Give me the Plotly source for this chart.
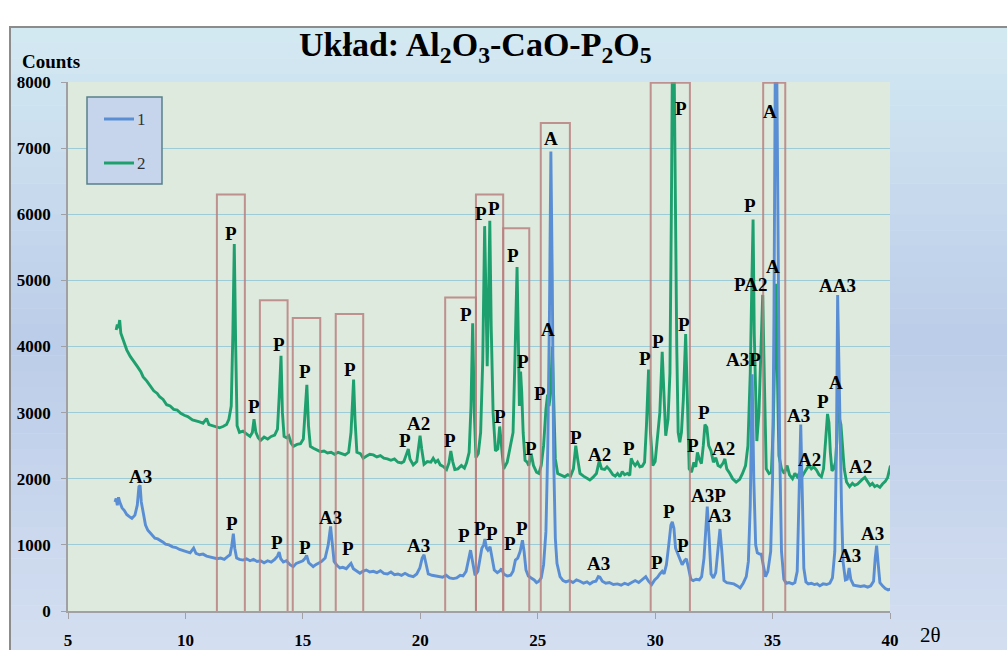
import plotly.graph_objects as go

# ---------------- data ----------------
# series 2 (green)
x2 = [7.05, 7.1, 7.15, 7.2, 7.25, 7.35, 7.5, 7.65, 7.8, 7.95, 8.1, 8.2, 8.35, 8.5, 8.65, 8.8, 8.9, 9.05, 9.2, 9.35,
      9.5, 9.65, 9.8, 9.95, 10.1, 10.3, 10.45, 10.6, 10.75, 10.9, 11.0, 11.15, 11.3, 11.45, 11.6, 11.75, 11.85, 11.95,
      12.02, 12.08, 12.14, 12.2, 12.3, 12.45, 12.6, 12.75, 12.85, 12.92, 13.0, 13.1, 13.2, 13.35, 13.5, 13.65, 13.8,
      13.92, 14.0, 14.07, 14.13, 14.2, 14.3, 14.4, 14.5, 14.6, 14.75, 14.9, 15.02, 15.1, 15.17, 15.24, 15.32, 15.45,
      15.6, 15.75, 15.9, 16.05, 16.2, 16.35, 16.5, 16.65, 16.8, 16.95, 17.05, 17.12, 17.16, 17.22, 17.3, 17.45, 17.57,
      17.7, 17.85, 18.0, 18.15, 18.3, 18.45, 18.6, 18.75, 18.9, 19.05, 19.2, 19.3, 19.42, 19.49, 19.56, 19.7, 19.85,
      19.93, 19.99, 20.06, 20.16, 20.3, 20.45, 20.55, 20.65, 20.75, 20.85, 21.0, 21.12, 21.22, 21.3, 21.38, 21.47,
      21.6, 21.75, 21.88, 21.97, 22.08, 22.16, 22.23, 22.3, 22.37, 22.47, 22.57, 22.66, 22.74, 22.8, 22.85, 22.91,
      22.96, 23.02, 23.1, 23.2, 23.3, 23.38, 23.46, 23.55, 23.7, 23.85, 23.95, 24.03, 24.12, 24.18, 24.22, 24.27,
      24.32, 24.38, 24.46, 24.55, 24.62, 24.72, 24.82, 24.95, 25.05, 25.15, 25.25, 25.35, 25.42, 25.48, 25.55, 25.62,
      25.68, 25.75, 25.85, 26.0, 26.15, 26.28, 26.4, 26.52, 26.62, 26.7, 26.8, 26.95, 27.1, 27.22, 27.35, 27.5, 27.62,
      27.72, 27.85, 27.95, 28.07, 28.2, 28.3, 28.4, 28.5, 28.6, 28.7, 28.82, 28.92, 28.98, 29.05, 29.15, 29.25, 29.35,
      29.45, 29.55, 29.63, 29.72, 29.8, 29.9, 30.0, 30.1, 30.2, 30.3, 30.38, 30.45, 30.55, 30.63, 30.69, 30.74, 30.8,
      30.86, 30.92, 30.98, 31.05, 31.12, 31.2, 31.3, 31.36, 31.45, 31.55, 31.65, 31.73, 31.8, 31.88, 31.97, 32.05,
      32.12, 32.2, 32.28, 32.38, 32.48, 32.58, 32.68, 32.78, 32.9, 32.97, 33.05, 33.18, 33.3, 33.45, 33.6, 33.72,
      33.85, 33.95, 34.05, 34.12, 34.17, 34.22, 34.28, 34.33, 34.42, 34.5, 34.58, 34.65, 34.73, 34.85, 34.95, 35.03,
      35.1, 35.15, 35.2, 35.27, 35.38, 35.5, 35.62, 35.72, 35.85, 35.95, 36.05, 36.15, 36.25, 36.35, 36.45, 36.55,
      36.65, 36.75, 36.87, 36.98, 37.08, 37.17, 37.25, 37.34, 37.4, 37.46, 37.53, 37.6, 37.68, 37.74, 37.8, 37.85,
      37.91, 37.97, 38.05, 38.15, 38.28, 38.4, 38.5, 38.62, 38.72, 38.82, 38.93, 39.05, 39.15, 39.25, 39.35, 39.45,
      39.57, 39.68, 39.8, 39.9, 39.97, 40.02]
y2 = [4250, 4330, 4280, 4400, 4200, 4100, 3950, 3850, 3780, 3700, 3620, 3540, 3480, 3400, 3330, 3290, 3240, 3200, 3120, 3100,
      3050, 3040, 2990, 2960, 2940, 2890, 2880, 2860, 2840, 2910, 2820, 2800, 2780, 2770, 2790, 2820, 2900, 3100,
      4200, 5550, 4000, 2800, 2700, 2720, 2680, 2640, 2700, 2900, 2700, 2620, 2580, 2630, 2600, 2640, 2660,
      2750, 3300, 3860, 3000, 2640, 2620, 2650, 2540, 2490, 2520, 2530, 2600, 3000, 3420, 2800, 2490, 2460,
      2430, 2410, 2420, 2390, 2400, 2370, 2400, 2380, 2360, 2400, 2700, 3200, 3500, 2900, 2400, 2380, 2310,
      2340, 2370, 2360, 2330, 2350, 2310, 2300, 2280, 2300, 2250, 2240, 2260, 2380, 2450, 2300, 2210, 2260,
      2500, 2650, 2450, 2220, 2260, 2250, 2310, 2250, 2280, 2210, 2180, 2140, 2240, 2420, 2260, 2140,
      2150, 2200, 2160, 2240, 2400, 3100, 4350, 3000, 2320, 2380, 2700, 3800, 5820, 4500, 3700, 4800,
      5900, 4300, 3000, 2420, 2450, 2790, 2450, 2150, 2250, 2500, 2700, 3800, 5200, 4000, 3100, 3620,
      3300, 2700, 2280, 2250, 2200, 2380, 2200, 2100, 2080, 2200, 2500, 3050, 3270, 3100, 3300, 4000,
      3000, 2300, 2080, 2050, 2030, 2060, 2040, 2150, 2500, 2300, 2080, 2040, 2000, 1980, 2020, 2080, 2270,
      2150, 2140, 2180, 2130, 2060, 2040, 2080, 2030, 2110, 2060, 2080, 2050, 2310, 2250, 2200, 2250, 2180,
      2190, 2250, 2800, 3650, 2700, 2200, 2260, 2600, 3000, 3920, 3300, 2650, 2900, 3600, 6000, 8600, 8600,
      6200, 4000, 2700, 2550, 2700, 3200, 4190, 3300, 2150, 2100, 2250, 2180, 2400, 2300, 2230, 2500,
      2820, 2780, 2500, 2420, 2250, 2320, 2200, 2180, 2240, 2300, 2150, 2080, 2000, 1950, 1990, 2080,
      2200, 2500, 3600, 5000, 5920, 4200, 3000, 2570, 3000, 3900, 4780, 3500, 2150, 2080, 2100, 2800,
      4300, 4950, 3700, 2350, 2150, 2080, 2200, 2060, 2000, 2080, 2030, 2090, 2030, 2100, 2150, 2200,
      2150, 2180, 2130, 2060, 2030, 2150, 2500, 2980, 2850, 2400, 2120, 2150, 2250, 2600, 3250, 2900,
      2820, 2500, 2150, 1950, 1880, 1930, 1900, 1920, 1960, 1990, 2020, 1950, 1900, 1930, 1880, 1900,
      1870, 1920, 1960, 2020, 2150, 2200]

# series 1 (blue)
x1 = [7.0, 7.05, 7.1, 7.15, 7.2, 7.3, 7.4, 7.5, 7.6, 7.72, 7.85, 7.95, 8.02, 8.07, 8.12, 8.2, 8.3, 8.4, 8.5, 8.6,
      8.7, 8.82, 8.92, 9.05, 9.15, 9.3, 9.45, 9.6, 9.75, 9.9, 10.05, 10.2, 10.35, 10.45, 10.6, 10.75, 10.9, 11.05,
      11.2, 11.35, 11.5, 11.65, 11.78, 11.9, 11.97, 12.04, 12.1, 12.18, 12.3, 12.45, 12.6, 12.75, 12.9, 13.05, 13.2,
      13.35, 13.5, 13.65, 13.8, 13.92, 13.99, 14.06, 14.17, 14.3, 14.45, 14.59, 14.72, 14.88, 15.0, 15.1, 15.16,
      15.25, 15.35, 15.44, 15.55, 15.68, 15.8, 15.95, 16.08, 16.18, 16.26, 16.33, 16.45, 16.58, 16.7, 16.85, 16.95,
      17.05, 17.15, 17.3, 17.43, 17.55, 17.7, 17.85, 18.0, 18.15, 18.3, 18.45, 18.6, 18.75, 18.9, 19.05, 19.2, 19.35,
      19.5, 19.7, 19.85, 19.98, 20.08, 20.16, 20.24, 20.34, 20.5, 20.65, 20.8, 20.95, 21.1, 21.25, 21.4, 21.55, 21.7,
      21.82, 21.95, 22.05, 22.14, 22.22, 22.33, 22.45, 22.55, 22.62, 22.7, 22.75, 22.82, 22.88, 22.97, 23.05, 23.15,
      23.28, 23.4, 23.46, 23.55, 23.7, 23.85, 23.95, 24.05, 24.15, 24.25, 24.35, 24.42, 24.5, 24.6, 24.72, 24.85,
      24.95, 25.05, 25.15, 25.25, 25.35, 25.43, 25.5, 25.56, 25.62, 25.68, 25.75, 25.82, 25.95, 26.08, 26.2, 26.35,
      26.5, 26.65, 26.8, 26.95, 27.1, 27.22, 27.35, 27.48, 27.58, 27.65, 27.75, 27.9, 28.05, 28.22, 28.4, 28.55,
      28.7, 28.85, 29.0, 29.15, 29.3, 29.45, 29.6, 29.72, 29.85, 29.98, 30.1, 30.2, 30.3, 30.38, 30.48, 30.58, 30.67,
      30.73, 30.8, 30.87, 30.95, 31.05, 31.15, 31.25, 31.33, 31.42, 31.52, 31.62, 31.75, 31.88, 31.98, 32.08, 32.15,
      32.22, 32.3, 32.38, 32.48, 32.58, 32.68, 32.76, 32.84, 32.93, 33.05, 33.2, 33.35, 33.5, 33.62, 33.75, 33.88,
      33.97, 34.05, 34.13, 34.2, 34.28, 34.35, 34.45, 34.52, 34.6, 34.7, 34.8, 34.92, 35.0, 35.06, 35.12, 35.17,
      35.23, 35.3, 35.38, 35.48, 35.58, 35.7, 35.85, 35.95, 36.05, 36.13, 36.2, 36.27, 36.33, 36.42, 36.52, 36.65,
      36.78, 36.9, 37.01, 37.15, 37.3, 37.44, 37.55, 37.65, 37.72, 37.77, 37.82, 37.87, 37.94, 38.0, 38.1, 38.18,
      38.26, 38.33, 38.45, 38.6, 38.75, 38.9, 39.05, 39.18, 39.3, 39.37, 39.43, 39.5, 39.57, 39.68, 39.8, 39.92, 40.02]
y1 = [1650, 1700, 1600, 1720, 1650, 1560, 1520, 1460, 1430, 1400, 1450, 1600, 1880, 1900, 1650, 1470, 1300, 1220, 1180, 1150,
      1100, 1090, 1070, 1040, 1010, 1000, 970, 960, 930, 910, 900, 880, 950, 870, 850, 860, 830, 820,
      810, 790, 800, 780, 820, 850, 980, 1170, 950, 800, 780, 770, 790, 760, 780, 750, 760,
      730, 760, 740, 780, 830, 890, 790, 740, 760, 700, 670, 720, 740, 760, 800, 840,
      730, 700, 670, 700, 720, 750, 800, 1000, 1280, 950, 750, 690, 650, 660, 640, 680,
      720, 640, 600, 570, 600, 620, 590, 600, 580, 610, 570, 560, 590, 550, 560, 540, 570,
      540, 520, 560, 650, 800, 850, 700, 560, 540, 530, 520, 510, 540, 500, 490, 500, 540,
      530, 600, 750, 920, 760, 540, 600, 800, 950, 1000, 1090, 950, 920, 970, 800, 620,
      580, 610, 640, 560, 530, 540, 600, 770, 800, 900, 1070, 900, 620, 530, 500, 470,
      430, 450, 500, 700, 1200, 2500, 4500, 6950, 5000, 2300, 1100, 720, 520, 460, 440, 460,
      430, 470, 450, 420, 440, 410, 440, 450, 520, 510, 450, 420, 430, 400, 410, 390,
      420, 400, 430, 460, 430, 480, 520, 450, 400, 470, 510, 560, 600, 560, 700, 1000, 1300,
      1350, 1250, 950, 880, 780, 700, 760, 790, 650, 480, 460, 480, 470, 520, 800, 1300,
      1580, 1100, 560, 500, 580, 950, 1240, 900, 460, 430, 420, 410, 380, 350, 420, 520,
      750, 1600, 3580, 2000, 1000, 880, 860, 860, 700, 520, 600, 900, 2000, 4500, 8600, 8600,
      5900, 2500, 900, 480, 420, 430, 410, 430, 600, 1800, 2820, 1700, 650, 440, 410, 420,
      400, 410, 380, 410, 400, 420, 500, 900, 2500, 4780, 3500, 2870, 1500, 750, 470, 480,
      650, 480, 390, 380, 370, 380, 360, 380, 450, 800, 990, 700, 430, 380, 340, 320, 330]

# phase labels
lab1_text = ["A3", "P", "P", "P", "A3", "P", "A3", "P", "P", "P", "P", "P", "A", "A3", "P", "P", "P",
             "A3P", "A3", "A3P", "A", "A3", "AA3", "A3", "A3"]
lab1_x = [8.07, 11.97, 13.9, 15.1, 16.18, 16.93, 19.92, 21.86, 22.56, 23.05, 23.82, 24.33, 25.56, 27.58, 30.06,
          30.6, 31.17, 32.26, 32.76, 33.75, 34.91, 36.1, 37.78, 38.26, 39.26]
lab1_y = [2030, 1330, 1040, 960, 1420, 950, 985, 1135, 1250, 1175, 1024, 1250, 7140, 711, 741,
          1512, 998, 1743, 1441, 3807, 7561, 2960, 4930, 832, 1166]

lab2_text = ["P", "P", "P", "P", "P", "P", "A2", "P", "P", "P", "P", "P", "P", "P", "P", "P", "A", "P", "A2",
             "P", "P", "P", "P", "P", "P", "P", "A2", "P", "PA2", "A", "A2", "P", "A", "A2"]
lab2_x = [11.94, 12.92, 13.97, 15.1, 17.0, 19.35, 19.91, 21.26, 21.93, 22.58, 23.14, 23.39, 23.96, 24.36, 24.71,
          25.09, 25.45, 26.63, 27.62, 28.9, 29.56, 30.13, 31.08, 31.22, 31.62, 32.07, 32.93, 34.06, 34.08, 35.0,
          36.56, 37.15, 37.72, 38.75]
lab2_y = [5711, 3090, 4037, 3619, 3655, 2586, 2838, 2576, 4491, 6014, 6089, 2949, 5383, 3770, 2460,
          3292, 4264, 2630, 2374, 2465, 3817, 4077, 7597, 4331, 2510, 2996, 2456, 6139, 4940, 5211,
          2294, 3166, 3458, 2185]

# highlighted 2-theta ranges (start, end, top count)
box_x0 = [11.34, 13.17, 14.57, 16.40, 21.06, 22.37, 23.53, 25.13, 29.81, 34.60]
box_x1 = [12.53, 14.35, 15.74, 17.57, 22.37, 23.53, 24.64, 26.37, 31.48, 35.54]
box_top = [6300, 4700, 4430, 4490, 4740, 6300, 5790, 7380, 7990, 7990]

x_ticks = [5, 10, 15, 20, 25, 30, 35, 40]
y_ticks = [0, 1000, 2000, 3000, 4000, 5000, 6000, 7000, 8000]

# ---------------- figure ----------------
W, H = 1007, 650
L, R, T, B = 68, 117, 82, 39
PW, PH = W - L - R, H - T - B

def px(xp):
    return (xp - L) / PW

def py(yp):
    return (H - B - yp) / PH

SERIF = "Liberation Serif, Times New Roman, serif"
BLUE = "rgb(90,142,212)"
GREEN = "rgb(30,160,110)"

fig = go.Figure()
fig.add_trace(go.Scatter(x=x2, y=y2, mode="lines", name="2",
                         line=dict(color=GREEN, width=2.9), showlegend=False))
fig.add_trace(go.Scatter(x=x1, y=y1, mode="lines", name="1",
                         line=dict(color=BLUE, width=2.9), showlegend=False))

shapes = []
# background gradient bands (whole chart area)
top_c = (212, 234, 243)
mid_c = (188, 205, 233)
bot_c = (212, 223, 241)
y_start, y_end = 27, 652
nb = 40
for i in range(nb):
    y0p = y_start + (y_end - y_start) * i / nb
    y1p = y_start + (y_end - y_start) * (i + 1) / nb
    t = (i + 0.5) / nb
    if t < 0.5:
        f = t / 0.5
        c = [top_c[k] + (mid_c[k] - top_c[k]) * f for k in range(3)]
    else:
        f = (t - 0.5) / 0.5
        c = [mid_c[k] + (bot_c[k] - mid_c[k]) * f for k in range(3)]
    shapes.append(dict(type="rect", xref="paper", yref="paper", layer="below",
                       x0=px(10), x1=px(1010), y0=py(y1p + 0.5), y1=py(y0p),
                       fillcolor="rgb(%d,%d,%d)" % tuple(int(v) for v in c),
                       line=dict(width=0)))
# chart border
shapes.append(dict(type="rect", xref="paper", yref="paper", layer="below",
                   x0=px(10), x1=px(1012), y0=py(655), y1=py(27),
                   fillcolor="rgba(0,0,0,0)", line=dict(color="rgb(140,140,140)", width=2)))
# plot area
shapes.append(dict(type="rect", xref="x domain", yref="y domain", layer="below",
                   x0=0, x1=1, y0=0, y1=1, fillcolor="rgb(222,234,221)", line=dict(width=0)))

# highlight boxes
for a, b, tp in zip(box_x0, box_x1, box_top):
    shapes.append(dict(type="rect", xref="x", yref="y", layer="above",
                       x0=a, x1=b, y0=-40, y1=tp, fillcolor="rgba(0,0,0,0)",
                       line=dict(color="rgba(185,128,128,0.85)", width=2)))

# manual legend
shapes.append(dict(type="rect", xref="paper", yref="paper", layer="above",
                   x0=px(87), x1=px(162), y0=py(184), y1=py(97),
                   fillcolor="rgb(198,213,236)", line=dict(color="rgb(88,128,138)", width=1.5)))
shapes.append(dict(type="line", xref="paper", yref="paper", layer="above",
                   x0=px(104), x1=px(134), y0=py(119), y1=py(119),
                   line=dict(color=BLUE, width=3)))
shapes.append(dict(type="line", xref="paper", yref="paper", layer="above",
                   x0=px(104), x1=px(134), y0=py(163), y1=py(163),
                   line=dict(color=GREEN, width=3)))

ann = []
for t, xv, yv in zip(lab1_text + lab2_text, lab1_x + lab2_x, lab1_y + lab2_y):
    ann.append(dict(x=xv, y=yv, xref="x", yref="y", text=t, showarrow=False,
                    font=dict(family=SERIF, size=19, color="black", weight=700),
                    xanchor="center", yanchor="middle"))

ann.append(dict(x=px(475), y=py(47), xref="paper", yref="paper", showarrow=False,
                text="Układ: Al<sub>2</sub>O<sub>3</sub>-CaO-P<sub>2</sub>O<sub>5</sub>",
                font=dict(family=SERIF, size=34, color="black", weight=700),
                xanchor="center", yanchor="middle"))
ann.append(dict(x=px(51), y=py(61), xref="paper", yref="paper", showarrow=False,
                text="Counts", font=dict(family=SERIF, size=19, color="black", weight=700),
                xanchor="center", yanchor="middle"))
ann.append(dict(x=px(930), y=py(635), xref="paper", yref="paper", showarrow=False,
                text="2θ", font=dict(family=SERIF, size=21, color="black"),
                xanchor="center", yanchor="middle"))
ann.append(dict(x=px(141), y=py(119), xref="paper", yref="paper", showarrow=False,
                text="1", font=dict(family=SERIF, size=17, color="rgb(50,50,50)"),
                xanchor="center", yanchor="middle"))
ann.append(dict(x=px(141), y=py(163), xref="paper", yref="paper", showarrow=False,
                text="2", font=dict(family=SERIF, size=17, color="rgb(50,50,50)"),
                xanchor="center", yanchor="middle"))

fig.update_layout(
    width=W, height=H,
    margin=dict(l=L, r=R, t=T, b=B, pad=0),
    paper_bgcolor="white",
    plot_bgcolor="rgba(0,0,0,0)",
    shapes=shapes,
    annotations=ann,
    showlegend=False,
    xaxis=dict(range=[5, 40], tickvals=x_ticks, ticktext=[str(v) for v in x_ticks], automargin=False,
               showgrid=False, zeroline=False, showline=True, linecolor="rgb(160,160,165)", linewidth=1.5,
               ticks="outside", ticklen=6, tickcolor="rgb(160,160,165)", ticklabelstandoff=7,
               tickfont=dict(family=SERIF, size=17, color="black", weight=700)),
    yaxis=dict(range=[0, 8000], tickvals=y_ticks, ticktext=[str(v) for v in y_ticks], automargin=False,
               showgrid=True, gridcolor="rgb(158,204,214)", gridwidth=1, zeroline=False,
               showline=True, linecolor="rgb(160,160,165)", linewidth=1.5,
               ticks="outside", ticklen=5, tickcolor="rgb(160,160,165)", ticklabelstandoff=7,
               tickfont=dict(family=SERIF, size=17, color="black", weight=700)),
)

fig.write_html("out.html")
